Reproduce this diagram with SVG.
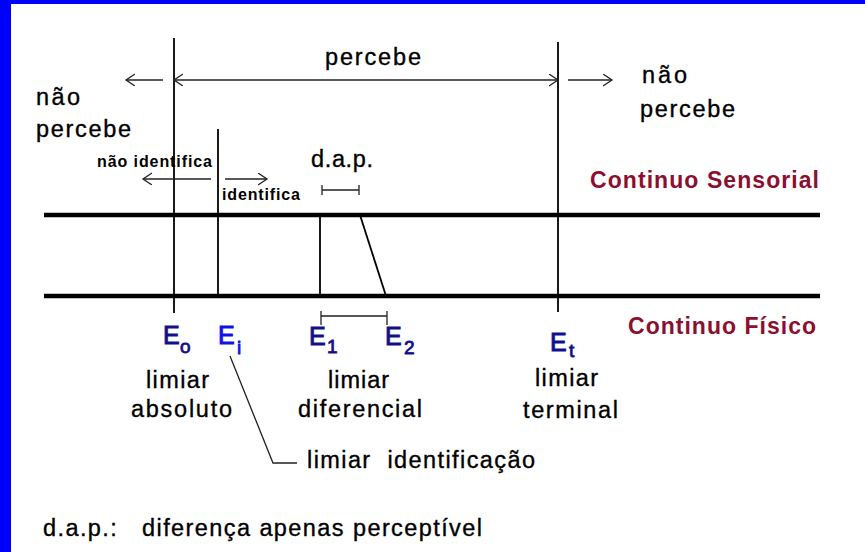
<svg xmlns="http://www.w3.org/2000/svg" width="865" height="552" viewBox="0 0 865 552">
<style>
text{font-family:"Liberation Sans",Arial,sans-serif;fill:#000}
.t{font-size:23.5px;stroke:#000;stroke-width:0.35}
.b{font-size:16px;font-weight:bold}
.red{font-size:23px;font-weight:bold;fill:#8b1030}
.E{font-size:25px;fill:#10108c;stroke:#10108c;stroke-width:0.9}
.Es{font-size:19px;fill:#10108c;stroke:#10108c;stroke-width:0.8}
.Eb{fill:#1010e8;stroke:#1010e8}
.axis{stroke:#000;stroke-width:4.5;fill:none}
.v{stroke:#000;stroke-width:1.8;fill:none}
.a{stroke:#222;stroke-width:1.3;fill:none}
</style>
<defs>
<marker id="ah" markerWidth="12" markerHeight="14" refX="9" refY="6" orient="auto-start-reverse" markerUnits="userSpaceOnUse">
<path d="M0,0 L9,6 L0,12" fill="none" stroke="#222" stroke-width="1.3"/>
</marker>
</defs>
<rect width="865" height="552" fill="#fff"/>
<rect x="0" y="0" width="865" height="4" fill="#0000ff"/>
<rect x="0" y="0" width="11" height="552" fill="#0000ff"/>

<g id="connectors">
<line class="axis" x1="44" y1="215" x2="820" y2="215"/>
<line class="axis" x1="44" y1="296" x2="820" y2="296"/>
<line class="v" x1="174" y1="38" x2="174" y2="313"/>
<line class="v" x1="218" y1="129" x2="218" y2="296"/>
<line class="v" x1="320" y1="215" x2="320" y2="296"/>
<line class="v" x1="360" y1="215" x2="386" y2="296"/>
<line class="v" x1="558" y1="42" x2="558" y2="312"/>
<line class="a" x1="174" y1="80" x2="558" y2="80" marker-start="url(#ah)" marker-end="url(#ah)"/>
<line class="a" x1="163" y1="80" x2="126" y2="80" marker-end="url(#ah)"/>
<line class="a" x1="568" y1="80" x2="612" y2="80" marker-end="url(#ah)"/>
<line class="a" x1="211" y1="179" x2="143" y2="179" marker-end="url(#ah)"/>
<line class="a" x1="225" y1="179" x2="267" y2="179" marker-end="url(#ah)"/>
<path class="a" d="M322,190 H359 M322,185 V195 M359,185 V195"/>
<path class="a" d="M321,316 H387 M321,311 V325 M387,311 V325"/>
<path class="a" d="M230,356 L273,463 H297"/>
</g>

<g id="percebe"><text class="t" x="325" y="65" textLength="96" lengthAdjust="spacing">percebe</text></g>
<g id="nao-percebe-left">
<text class="t" x="36" y="105" textLength="44" lengthAdjust="spacing">não</text>
<text class="t" x="36" y="137" textLength="95" lengthAdjust="spacing">percebe</text>
</g>
<g id="nao-percebe-right">
<text class="t" x="642" y="83" textLength="45" lengthAdjust="spacing">não</text>
<text class="t" x="640" y="117" textLength="95" lengthAdjust="spacing">percebe</text>
</g>
<g id="nao-identifica"><text class="b" x="97" y="167" textLength="115" lengthAdjust="spacing">não identifica</text></g>
<g id="identifica"><text class="b" x="222" y="200" textLength="78" lengthAdjust="spacing">identifica</text></g>
<g id="dap"><text class="t" x="311" y="167" textLength="62" lengthAdjust="spacing">d.a.p.</text></g>
<g id="continuo-sensorial"><text class="red" x="590" y="188" textLength="229" lengthAdjust="spacing">Continuo Sensorial</text></g>
<g id="continuo-fisico"><text class="red" x="628" y="334" textLength="188" lengthAdjust="spacing">Continuo Físico</text></g>

<g id="E0">
<text class="E" x="163" y="344">E</text><text class="Es" x="180" y="353">o</text>
<text class="t" x="146" y="388" textLength="63" lengthAdjust="spacing">limiar</text>
<text class="t" x="131" y="417" textLength="101" lengthAdjust="spacing">absoluto</text>
</g>
<g id="Ei">
<text class="E Eb" x="218" y="344">E</text><text class="Es Eb" x="237" y="354">i</text>
</g>
<g id="E1E2">
<text class="E" x="309" y="345">E</text><text class="Es" x="327" y="353">1</text>
<text class="E" x="385" y="345">E</text><text class="Es" x="404" y="354">2</text>
<text class="t" x="328" y="388" textLength="61" lengthAdjust="spacing">limiar</text>
<text class="t" x="298" y="417" textLength="124" lengthAdjust="spacing">diferencial</text>
</g>
<g id="Et">
<text class="E" x="550" y="351">E</text><text class="Es" x="569" y="357">t</text>
<text class="t" x="535" y="386" textLength="63" lengthAdjust="spacing">limiar</text>
<text class="t" x="523" y="418" textLength="95" lengthAdjust="spacing">terminal</text>
</g>
<g id="limiar-identificacao"><text class="t" x="307" y="468" textLength="228" lengthAdjust="spacing" xml:space="preserve">limiar  identificação</text></g>
<g id="legend"><text class="t" x="43" y="536" textLength="439" lengthAdjust="spacing" xml:space="preserve">d.a.p.:   diferença apenas perceptível</text></g>
</svg>
